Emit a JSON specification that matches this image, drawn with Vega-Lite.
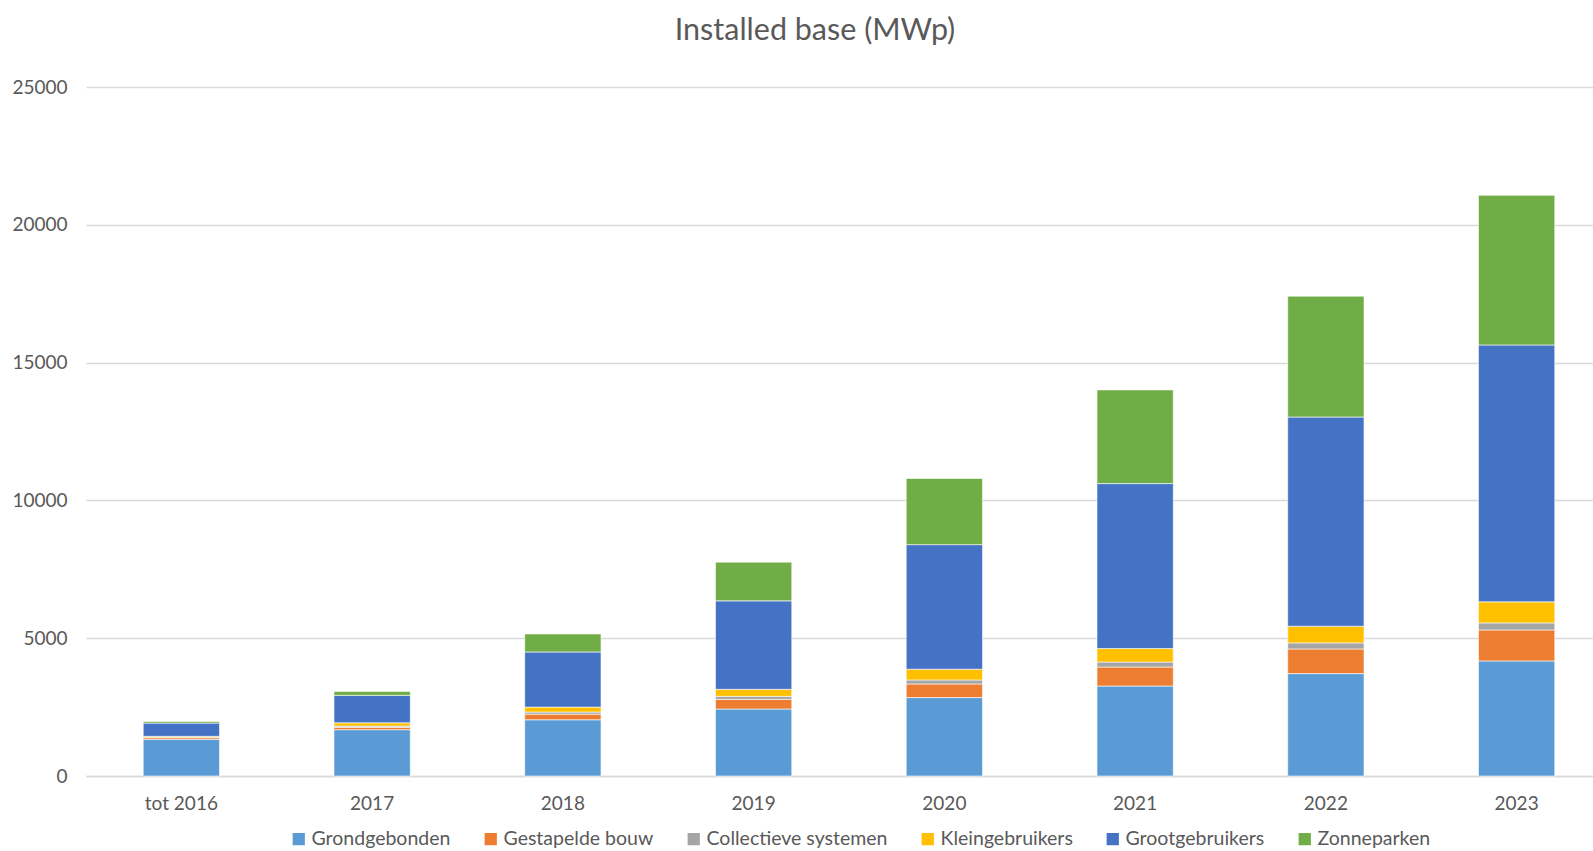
{
  "$schema": "https://vega.github.io/schema/vega-lite/v6.json",
  "autosize": "none",
  "width": 1526,
  "height": 689,
  "padding": {"left": 86, "top": 87, "right": 0, "bottom": 75},
  "background": "white",
  "title": {
    "text": "Installed base (MWp)",
    "font": "Lato",
    "fontSize": 30.5,
    "fontWeight": "normal",
    "color": "#595959",
    "anchor": "middle",
    "dx": -34,
    "offset": 32
  },
  "config": {
    "view": {"stroke": null},
    "font": "Lato"
  },
  "data": {
    "values": [
      {"jaar": "tot 2016", "segment": "Grondgebonden", "mwp": 1330},
      {"jaar": "tot 2016", "segment": "Gestapelde bouw", "mwp": 60},
      {"jaar": "tot 2016", "segment": "Collectieve systemen", "mwp": 20},
      {"jaar": "tot 2016", "segment": "Kleingebruikers", "mwp": 30},
      {"jaar": "tot 2016", "segment": "Grootgebruikers", "mwp": 480},
      {"jaar": "tot 2016", "segment": "Zonneparken", "mwp": 60},
      {"jaar": "2017", "segment": "Grondgebonden", "mwp": 1680},
      {"jaar": "2017", "segment": "Gestapelde bouw", "mwp": 85},
      {"jaar": "2017", "segment": "Collectieve systemen", "mwp": 45},
      {"jaar": "2017", "segment": "Kleingebruikers", "mwp": 120},
      {"jaar": "2017", "segment": "Grootgebruikers", "mwp": 995},
      {"jaar": "2017", "segment": "Zonneparken", "mwp": 145},
      {"jaar": "2018", "segment": "Grondgebonden", "mwp": 2040},
      {"jaar": "2018", "segment": "Gestapelde bouw", "mwp": 205},
      {"jaar": "2018", "segment": "Collectieve systemen", "mwp": 75},
      {"jaar": "2018", "segment": "Kleingebruikers", "mwp": 180},
      {"jaar": "2018", "segment": "Grootgebruikers", "mwp": 2000},
      {"jaar": "2018", "segment": "Zonneparken", "mwp": 655},
      {"jaar": "2019", "segment": "Grondgebonden", "mwp": 2430},
      {"jaar": "2019", "segment": "Gestapelde bouw", "mwp": 350},
      {"jaar": "2019", "segment": "Collectieve systemen", "mwp": 110},
      {"jaar": "2019", "segment": "Kleingebruikers", "mwp": 255},
      {"jaar": "2019", "segment": "Grootgebruikers", "mwp": 3210},
      {"jaar": "2019", "segment": "Zonneparken", "mwp": 1405},
      {"jaar": "2020", "segment": "Grondgebonden", "mwp": 2845},
      {"jaar": "2020", "segment": "Gestapelde bouw", "mwp": 495},
      {"jaar": "2020", "segment": "Collectieve systemen", "mwp": 145},
      {"jaar": "2020", "segment": "Kleingebruikers", "mwp": 390},
      {"jaar": "2020", "segment": "Grootgebruikers", "mwp": 4520},
      {"jaar": "2020", "segment": "Zonneparken", "mwp": 2400},
      {"jaar": "2021", "segment": "Grondgebonden", "mwp": 3265},
      {"jaar": "2021", "segment": "Gestapelde bouw", "mwp": 690},
      {"jaar": "2021", "segment": "Collectieve systemen", "mwp": 180},
      {"jaar": "2021", "segment": "Kleingebruikers", "mwp": 490},
      {"jaar": "2021", "segment": "Grootgebruikers", "mwp": 5985},
      {"jaar": "2021", "segment": "Zonneparken", "mwp": 3400},
      {"jaar": "2022", "segment": "Grondgebonden", "mwp": 3715},
      {"jaar": "2022", "segment": "Gestapelde bouw", "mwp": 895},
      {"jaar": "2022", "segment": "Collectieve systemen", "mwp": 220},
      {"jaar": "2022", "segment": "Kleingebruikers", "mwp": 605},
      {"jaar": "2022", "segment": "Grootgebruikers", "mwp": 7590},
      {"jaar": "2022", "segment": "Zonneparken", "mwp": 4385},
      {"jaar": "2023", "segment": "Grondgebonden", "mwp": 4175},
      {"jaar": "2023", "segment": "Gestapelde bouw", "mwp": 1125},
      {"jaar": "2023", "segment": "Collectieve systemen", "mwp": 255},
      {"jaar": "2023", "segment": "Kleingebruikers", "mwp": 765},
      {"jaar": "2023", "segment": "Grootgebruikers", "mwp": 9320},
      {"jaar": "2023", "segment": "Zonneparken", "mwp": 5430}
    ]
  },
  "transform": [
    {"calculate": "indexof(['Grondgebonden', 'Gestapelde bouw', 'Collectieve systemen', 'Kleingebruikers', 'Grootgebruikers', 'Zonneparken'], datum.segment)", "as": "volgorde"}
  ],
  "mark": {"type": "bar", "stroke": "white", "strokeWidth": 1, "strokeOpacity": 0.6},
  "encoding": {
    "x": {
      "field": "jaar",
      "type": "nominal",
      "sort": ["tot 2016", "2017", "2018", "2019", "2020", "2021", "2022", "2023"],
      "scale": {"paddingInner": 0.6, "paddingOuter": 0.3},
      "axis": {
        "title": null,
        "labelAngle": 0,
        "labelFontSize": 19,
        "labelColor": "#595959",
        "labelPadding": 18,
        "ticks": false,
        "domainColor": "#D9D9D9",
        "domainWidth": 1.5,
        "grid": false
      }
    },
    "y": {
      "field": "mwp",
      "type": "quantitative",
      "stack": "zero",
      "scale": {"domain": [0, 25000], "nice": false},
      "axis": {
        "title": null,
        "values": [0, 5000, 10000, 15000, 20000, 25000],
        "format": "d",
        "labelFontSize": 19,
        "labelColor": "#595959",
        "labelPadding": 19,
        "ticks": false,
        "domain": false,
        "gridColor": "#D9D9D9",
        "gridWidth": 1.3
      }
    },
    "order": {"field": "volgorde", "type": "quantitative", "sort": "ascending"},
    "color": {
      "field": "segment",
      "type": "nominal",
      "sort": ["Grondgebonden", "Gestapelde bouw", "Collectieve systemen", "Kleingebruikers", "Grootgebruikers", "Zonneparken"],
      "scale": {
        "domain": ["Grondgebonden", "Gestapelde bouw", "Collectieve systemen", "Kleingebruikers", "Grootgebruikers", "Zonneparken"],
        "range": ["#5B9BD5", "#ED7D31", "#A5A5A5", "#FFC000", "#4472C4", "#70AD47"]
      },
      "legend": {
        "title": null,
        "orient": "none",
        "direction": "horizontal",
        "legendX": 203,
        "legendY": 742,
        "symbolType": "square",
        "symbolSize": 150,
        "symbolStrokeWidth": 0,
        "labelFontSize": 19.5,
        "labelLimit": 0,
        "labelColor": "#595959",
        "labelOffset": 3,
        "columnPadding": 30
      }
    }
  }
}
